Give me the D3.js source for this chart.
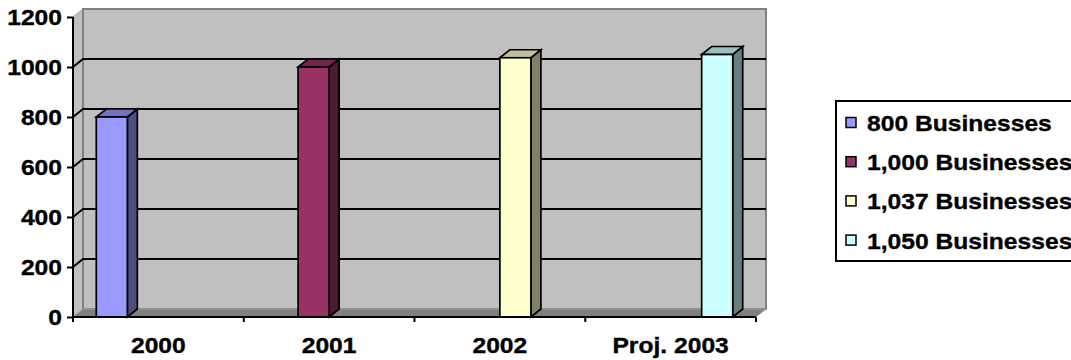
<!DOCTYPE html>
<html>
<head>
<meta charset="utf-8">
<script src="https://cdn.jsdelivr.net/npm/d3@7"></script>
<style>
  html, body { margin: 0; padding: 0; background: #ffffff; }
  svg { display: block; }
  text { font-family: "Liberation Sans", Arial, sans-serif; font-weight: bold; font-size: 22px; fill: #000; stroke: #000; stroke-width: 0.35px; }
</style>
</head>
<body>
<svg id="chart" width="1071" height="360"></svg>
<script>
// ---- data ----
const categories = ["2000", "2001", "2002", "Proj. 2003"];
const seriesNames = ["800 Businesses", "1,000 Businesses", "1,037 Businesses", "1,050 Businesses"];
// one row per series, one value per category (blank where the series has no bar)
const series800  = [800, null, null, null];
const series1000 = [null, 1000, null, null];
const series1037 = [null, null, 1037, null];
const series1050 = [null, null, null, 1050];
const seriesValues = [series800, series1000, series1037, series1050];
const yTicks = [0, 200, 400, 600, 800, 1000, 1200];

// ---- colours: front face, top face, side face ----
const frontColors = ["#9999FF", "#993366", "#FFFFCC", "#CCFFFF"];
const topColors   = ["#7373BF", "#73264D", "#BFBF99", "#99BFBF"];
const sideColors  = ["#4D4D80", "#4D1A33", "#808066", "#668080"];

// ---- layout ----
const plot = { left: 73, right: 756, top: 17, bottom: 317 };
const depth = { dx: 10, dy: -8 };
const stretch = 1.12; // horizontal text widening

const svg = d3.select("#chart");

const y = d3.scaleLinear().domain([0, 1200]).range([plot.bottom, plot.top]);
const x0 = d3.scaleBand().domain(categories).range([plot.left, plot.right]).padding(0);
const x1 = d3.scaleBand().domain(seriesNames).range([0, x0.bandwidth()])
  .paddingInner(0).paddingOuter(0.75);

const pts = a => a.map(p => p.join(",")).join(" ");
const bx = plot.left + depth.dx, by = plot.top + depth.dy;
const ex = plot.right + depth.dx, ey = plot.bottom + depth.dy;

// side wall
svg.append("polygon")
  .attr("points", pts([[plot.left, plot.top], [bx, by], [bx, ey], [plot.left, plot.bottom]]))
  .attr("fill", "#C0C0C0").attr("stroke", "#A0A0A0").attr("stroke-width", 1);
// back wall
svg.append("polygon")
  .attr("points", pts([[bx, by], [ex, by], [ex, ey], [bx, ey]]))
  .attr("fill", "#C0C0C0").attr("stroke", "#808080").attr("stroke-width", 2);
// floor
svg.append("polygon")
  .attr("points", pts([[plot.left, plot.bottom], [plot.right, plot.bottom], [ex, ey], [bx, ey]]))
  .attr("fill", "#808080").attr("stroke", "#A0A0A0").attr("stroke-width", 1);

// gridlines across side and back walls
svg.append("g").selectAll("polyline")
  .data(yTicks.filter(t => t > 0 && t < 1200))
  .join("polyline")
  .attr("points", t => pts([[plot.left, y(t)], [bx, y(t) + depth.dy], [ex, y(t) + depth.dy]]))
  .attr("fill", "none").attr("stroke", "#000").attr("stroke-width", 1.9);

// bars
const bars = [];
seriesValues.forEach((vals, si) => {
  vals.forEach((v, ci) => {
    if (v == null) return;
    bars.push({ si, ci, v });
  });
});
const barG = svg.append("g").attr("stroke", "#000").attr("stroke-width", 1.7).attr("stroke-linejoin", "miter");
bars.forEach(b => {
  const xl = x0(categories[b.ci]) + x1(seriesNames[b.si]);
  const w = x1.bandwidth();
  const yt = y(b.v), yb = y(0);
  barG.append("polygon")
    .attr("points", pts([[xl + w, yt], [xl + w + depth.dx, yt + depth.dy], [xl + w + depth.dx, yb + depth.dy], [xl + w, yb]]))
    .attr("fill", sideColors[b.si]);
  barG.append("polygon")
    .attr("points", pts([[xl, yt], [xl + depth.dx, yt + depth.dy], [xl + w + depth.dx, yt + depth.dy], [xl + w, yt]]))
    .attr("fill", topColors[b.si]);
  barG.append("rect")
    .attr("x", xl).attr("y", yt).attr("width", w).attr("height", yb - yt)
    .attr("fill", frontColors[b.si]);
});

// y axis
const yAxis = svg.append("g")
  .attr("transform", `translate(${plot.left},0)`)
  .call(d3.axisLeft(y).tickValues(yTicks).tickSize(6).tickSizeOuter(0).tickPadding(0).tickFormat(d3.format("d")));
yAxis.select(".domain").remove();
yAxis.selectAll(".tick line").attr("stroke", "#000").attr("stroke-width", 2);
yAxis.selectAll(".tick text")
  .attr("x", -11 / stretch)
  .attr("dy", "0.34em")
  .attr("transform", `scale(${stretch},1)`);
svg.append("line")
  .attr("x1", plot.left).attr("x2", plot.left).attr("y1", plot.top).attr("y2", plot.bottom + 5)
  .attr("stroke", "#000").attr("stroke-width", 2);

// x axis: category names centred in each band
const xAxis = svg.append("g")
  .attr("transform", `translate(0,${plot.bottom})`)
  .call(d3.axisBottom(x0).tickSize(0).tickPadding(0));
xAxis.select(".domain").remove();
xAxis.selectAll(".tick text")
  .attr("x", 0).attr("y", 36).attr("dy", null)
  .attr("transform", `scale(${stretch},1)`);
svg.append("line")
  .attr("x1", plot.left).attr("x2", plot.right).attr("y1", plot.bottom).attr("y2", plot.bottom)
  .attr("stroke", "#000").attr("stroke-width", 2);
// tick marks on the band boundaries
svg.append("g").selectAll("line")
  .data(categories.map(c => x0(c)).concat([plot.right]))
  .join("line")
  .attr("x1", d => d).attr("x2", d => d)
  .attr("y1", plot.bottom).attr("y2", plot.bottom + 5)
  .attr("stroke", "#000").attr("stroke-width", 2);

// legend
const legend = svg.append("g");
legend.append("rect")
  .attr("x", 836).attr("y", 101).attr("width", 260).attr("height", 160)
  .attr("fill", "#fff").attr("stroke", "#000").attr("stroke-width", 2);
const rowY = d3.scaleLinear().domain([0, 1]).range([131, 170.2]);
const items = legend.selectAll("g.item").data(seriesNames).join("g")
  .attr("class", "item")
  .attr("transform", (d, i) => `translate(0,${rowY(i)})`);
items.append("rect")
  .attr("x", 846).attr("y", -13.5).attr("width", 10).attr("height", 10)
  .attr("fill", (d, i) => frontColors[i]).attr("stroke", "#000").attr("stroke-width", 1.5);
items.append("text")
  .attr("transform", `translate(867,0) scale(${stretch},1)`)
  .text(d => d);
</script>
</body>
</html>
